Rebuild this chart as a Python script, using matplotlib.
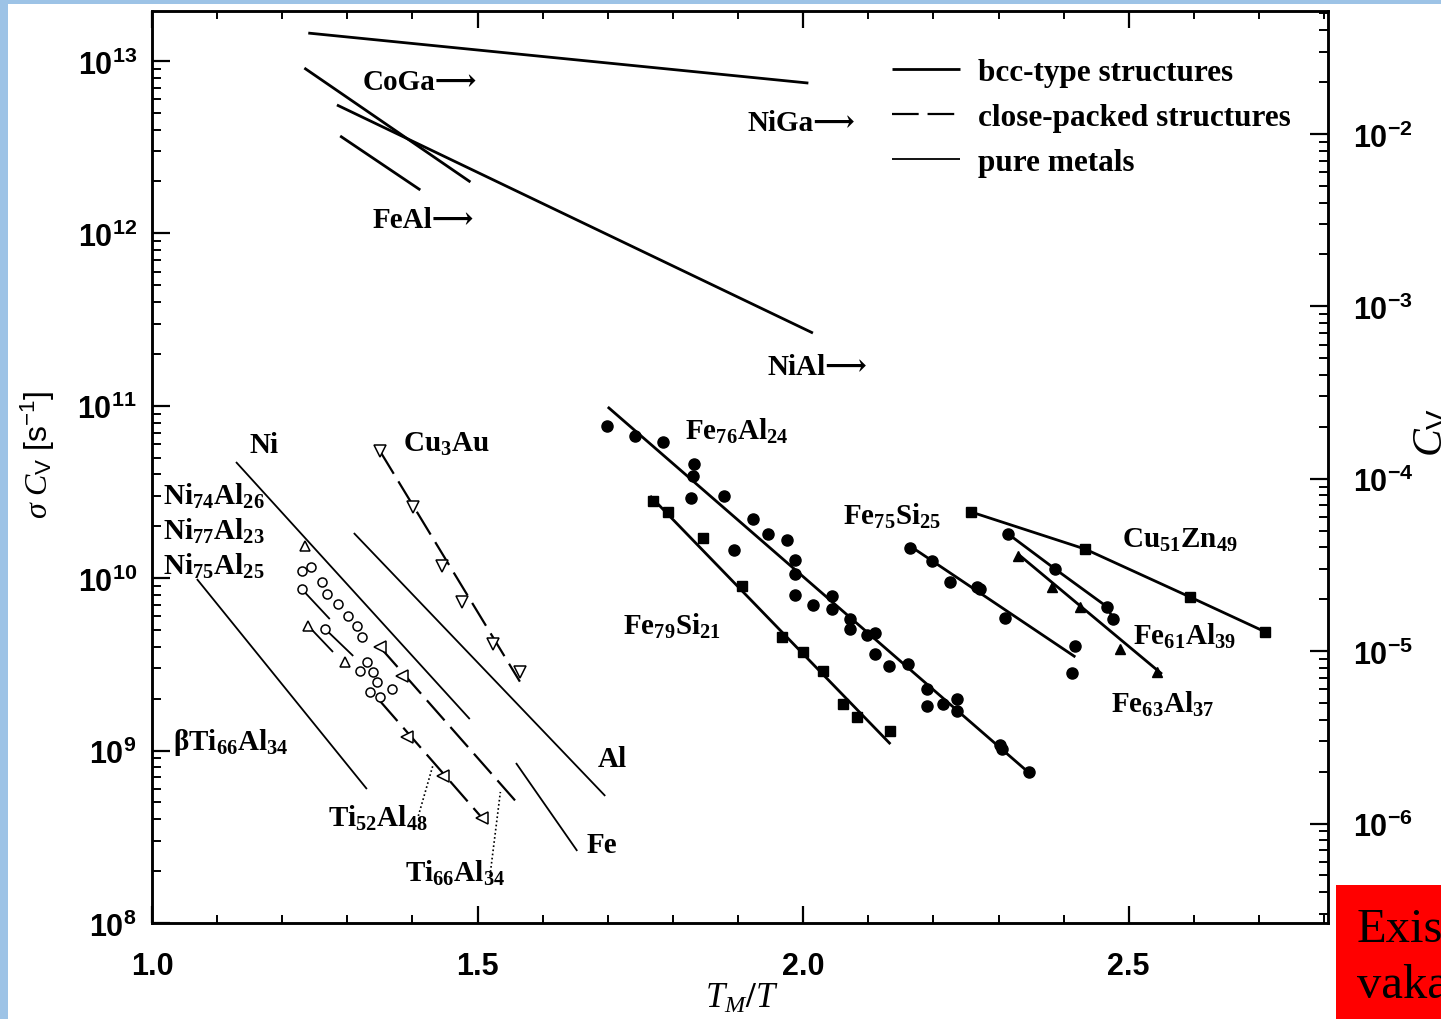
import numpy as np
import matplotlib
matplotlib.use('Agg')
import matplotlib.pyplot as plt
from matplotlib.patches import Rectangle
from matplotlib.ticker import LogLocator, MultipleLocator, NullFormatter

plt.rcParams['mathtext.fontset'] = 'custom'
plt.rcParams['mathtext.rm'] = 'Liberation Serif:bold'
plt.rcParams['mathtext.bf'] = 'Liberation Sans:bold'
plt.rcParams['mathtext.sf'] = 'Liberation Sans'
plt.rcParams['mathtext.it'] = 'Liberation Serif:italic'
plt.rcParams['mathtext.default'] = 'rm'

# ---------------- data (x = T_M/T, values as log10(sigma*C_V / s^-1)) ----------------
x_ticks = [1.0, 1.5, 2.0, 2.5]
x_ticklabels = ['1.0', '1.5', '2.0', '2.5']
y_ticks = [1e8, 1e9, 1e10, 1e11, 1e12, 1e13]
y_ticklabels = [r'$\mathbf{10^{8}}$', r'$\mathbf{10^{9}}$', r'$\mathbf{10^{10}}$',
                r'$\mathbf{10^{11}}$', r'$\mathbf{10^{12}}$', r'$\mathbf{10^{13}}$']
cv_ticks = [1e-6, 1e-5, 1e-4, 1e-3, 1e-2]
cv_ticklabels = [r'$\mathbf{10^{-6}}$', r'$\mathbf{10^{-5}}$', r'$\mathbf{10^{-4}}$',
                 r'$\mathbf{10^{-3}}$', r'$\mathbf{10^{-2}}$']
cv_offset_log10 = 14.577   # log10(sigma) linking left and right axes

# bcc-type structures (thick solid lines)
niga_x = [1.240, 2.008]; niga_log = [13.162, 12.872]
coga_x = [1.234, 1.489]; coga_log = [12.959, 12.298]
nial_x = [1.284, 2.015]; nial_log = [12.745, 11.422]
feal_x = [1.289, 1.412]; feal_log = [12.565, 12.252]

fe76al24_x = [1.699, 1.742, 1.785, 1.833, 1.831, 1.828, 1.879, 1.894, 1.923, 1.946, 1.975,
              1.988, 1.988, 1.988, 2.015, 2.045, 2.045, 2.072, 2.072, 2.098, 2.111, 2.111,
              2.132, 2.161, 2.190, 2.190, 2.214, 2.237, 2.237, 2.303, 2.306, 2.347]
fe76al24_log = [10.883, 10.825, 10.790, 10.662, 10.593, 10.465, 10.477, 10.164, 10.343, 10.256,
                10.222, 10.106, 10.024, 9.903, 9.845, 9.897, 9.821, 9.763, 9.705, 9.671, 9.682,
                9.560, 9.491, 9.502, 9.357, 9.259, 9.270, 9.299, 9.230, 9.032, 9.009, 8.876]
fe76al24_fit_x = [1.700, 2.349]; fe76al24_fit_log = [10.993, 8.864]

fe79si21_x = [1.770, 1.793, 1.846, 1.906, 1.968, 2.000, 2.031, 2.061, 2.083, 2.134]
fe79si21_log = [10.448, 10.384, 10.233, 9.955, 9.659, 9.572, 9.462, 9.270, 9.195, 9.114]
fe79si21_fit_x = [1.765, 2.134]; fe79si21_fit_log = [10.477, 9.038]

fe75si25_x = [2.164, 2.198, 2.226, 2.267, 2.272, 2.310, 2.418, 2.413]
fe75si25_log = [10.175, 10.100, 9.978, 9.949, 9.937, 9.769, 9.607, 9.450]
fe75si25_fit_x = [2.164, 2.418]; fe75si25_fit_log = [10.187, 9.543]

fe61al39_x = [2.315, 2.387, 2.467, 2.476]
fe61al39_log = [10.256, 10.053, 9.833, 9.763]

fe63al37_x = [2.330, 2.382, 2.425, 2.487, 2.544]
fe63al37_log = [10.129, 9.949, 9.833, 9.589, 9.456]
fe63al37_fit_x = [2.330, 2.551]; fe63al37_fit_log = [10.140, 9.444]

cu51zn49_x = [2.258, 2.433, 2.594, 2.710]
cu51zn49_log = [10.384, 10.169, 9.891, 9.688]

# Ni3Al-type alloys (open symbols, short lines)
ni3al_circ_x = [1.230, 1.244, 1.261, 1.269, 1.286, 1.301, 1.315, 1.323]
ni3al_circ_log = [10.042, 10.065, 9.978, 9.908, 9.850, 9.781, 9.723, 9.659]
ni3al_circ2_x = [1.230, 1.266, 1.320, 1.330, 1.339, 1.346, 1.350, 1.369, 1.335]
ni3al_circ2_log = [9.937, 9.705, 9.462, 9.514, 9.456, 9.398, 9.311, 9.357, 9.340]
ni3al_tri_x = [1.235, 1.240, 1.296]
ni3al_tri_log = [10.187, 9.723, 9.514]
ni3al_seg1_x = [1.230, 1.273]; ni3al_seg1_log = [9.937, 9.763]
ni3al_seg2_x = [1.240, 1.278]; ni3al_seg2_log = [9.723, 9.572]
ni3al_seg3_x = [1.266, 1.309]; ni3al_seg3_log = [9.705, 9.549]

# close-packed structures (dashed lines)
cu3au_x = [1.350, 1.401, 1.445, 1.476, 1.524, 1.565]
cu3au_log = [10.738, 10.413, 10.071, 9.862, 9.618, 9.456]
cu3au_fit_x = [1.350, 1.565]; cu3au_fit_log = [10.738, 9.40]
ti66al34_x = [1.350, 1.384]; ti66al34_log = [9.601, 9.433]
ti66al34_fit_x = [1.350, 1.565]; ti66al34_fit_log = [9.601, 8.679]
ti52al48_x = [1.392, 1.447, 1.507]; ti52al48_log = [9.079, 8.853, 8.609]
ti52al48_fit_x = [1.350, 1.507]; ti52al48_fit_log = [9.288, 8.609]

# pure metals (thin solid lines)
ni_x = [1.129, 1.488]; ni_log = [10.674, 9.183]
al_x = [1.310, 1.696]; al_log = [10.262, 8.737]
fe_x = [1.559, 1.653]; fe_log = [8.928, 8.418]
bti_x = [1.069, 1.330]; bti_log = [9.995, 8.777]

# label leaders (dotted)
lead_ti52_x = [1.409, 1.432]; lead_ti52_log = [8.621, 8.922]
lead_ti66_x = [1.519, 1.535]; lead_ti66_log = [8.273, 8.760]

labels = [
    (r'CoGa⟶', 1.324, 12.838), (r'NiGa⟶', 1.914, 12.600), (r'FeAl⟶', 1.339, 12.037),
    (r'NiAl⟶', 1.945, 11.184), (r'Ni', 1.149, 10.732), (r'Cu$_3$Au', 1.386, 10.738),
    (r'Fe$_{76}$Al$_{24}$', 1.819, 10.807), (r'Ni$_{74}$Al$_{26}$', 1.017, 10.430),
    (r'Ni$_{77}$Al$_{23}$', 1.017, 10.227), (r'Ni$_{75}$Al$_{25}$', 1.017, 10.024),
    (r'Fe$_{75}$Si$_{25}$', 2.061, 10.314), (r'Cu$_{51}$Zn$_{49}$', 2.490, 10.181),
    (r'Fe$_{79}$Si$_{21}$', 1.724, 9.676), (r'Fe$_{61}$Al$_{39}$', 2.507, 9.618),
    (r'Fe$_{63}$Al$_{37}$', 2.472, 9.224), (r'βTi$_{66}$Al$_{34}$', 1.032, 9.009),
    (r'Al', 1.685, 8.911), (r'Ti$_{52}$Al$_{48}$', 1.270, 8.563), (r'Fe', 1.668, 8.412),
    (r'Ti$_{66}$Al$_{34}$', 1.389, 8.244),
]
legend_labels = ['bcc-type structures', 'close-packed structures', 'pure metals']

# ---------------- figure ----------------
W, H = 1441, 1020
fig = plt.figure(figsize=(W / 100, H / 100), dpi=100, facecolor='#9dc3e6')
fig.patches.append(Rectangle((8 / W, 0), 1, 1 - 5 / H, transform=fig.transFigure,
                             facecolor='white', edgecolor='none', zorder=-10))
fig.patches.append(Rectangle((1336 / W, 0), 1, (H - 886) / H, transform=fig.transFigure,
                             facecolor='#ff0000', edgecolor='none', zorder=5))
fig.text(1357 / W, (H - 942) / H, 'Exis', fontsize=35, family='Liberation Serif',
         color='black', zorder=6)
fig.text(1357 / W, (H - 998) / H, 'vaka', fontsize=35, family='Liberation Serif',
         color='black', zorder=6)

ax = fig.add_axes([152 / W, 1 - 924 / H, (1328 - 152) / W, (924 - 12) / H])
ax.set_facecolor('white')
ax.set_yscale('log')
ax.set_xlim(1.0, 2.806)
ax.set_ylim(1e8, 10 ** 13.29)

def P(v):
    return 10 ** np.asarray(v)

k = 'black'
bcc = dict(color=k, lw=2.0, solid_capstyle='butt')
pure = dict(color=k, lw=1.3, solid_capstyle='butt')
cp = dict(color=k, lw=1.6, ls=(0, (12, 4)))

for xs, ys in [(niga_x, niga_log), (coga_x, coga_log), (nial_x, nial_log), (feal_x, feal_log),
               (fe76al24_fit_x, fe76al24_fit_log), (fe79si21_fit_x, fe79si21_fit_log),
               (fe75si25_fit_x, fe75si25_fit_log), (fe61al39_x, fe61al39_log),
               (fe63al37_fit_x, fe63al37_fit_log), (cu51zn49_x, cu51zn49_log)]:
    ax.plot(xs, P(ys), **bcc)

for xs, ys in [(ni_x, ni_log), (al_x, al_log), (fe_x, fe_log), (bti_x, bti_log),
               (ni3al_seg1_x, ni3al_seg1_log), (ni3al_seg2_x, ni3al_seg2_log),
               (ni3al_seg3_x, ni3al_seg3_log)]:
    ax.plot(xs, P(ys), **pure)

for xs, ys in [(cu3au_fit_x, cu3au_fit_log), (ti66al34_fit_x, ti66al34_fit_log),
               (ti52al48_fit_x, ti52al48_fit_log)]:
    ax.plot(xs, P(ys), **cp)

for xs, ys in [(lead_ti52_x, lead_ti52_log), (lead_ti66_x, lead_ti66_log)]:
    ax.plot(xs, P(ys), color=k, lw=1.2, ls=(0, (1, 1.5)))

ax.plot(fe76al24_x, P(fe76al24_log), 'o', ms=8, color=k, ls='none')
ax.plot(fe79si21_x, P(fe79si21_log), 's', ms=7, color=k, ls='none')
ax.plot(fe75si25_x, P(fe75si25_log), 'o', ms=8, color=k, ls='none')
ax.plot(fe61al39_x, P(fe61al39_log), 'o', ms=8, color=k, ls='none')
ax.plot(fe63al37_x, P(fe63al37_log), '^', ms=7, color=k, ls='none')
ax.plot(cu51zn49_x, P(cu51zn49_log), 's', ms=7, color=k, ls='none')

open_m = dict(mfc='white', mec=k, mew=1.1, ls='none')
ax.plot(ni3al_circ_x, P(ni3al_circ_log), 'o', ms=6.5, **open_m)
ax.plot(ni3al_circ2_x, P(ni3al_circ2_log), 'o', ms=6.5, **open_m)
ax.plot(ni3al_tri_x, P(ni3al_tri_log), '^', ms=6.5, **open_m)
ax.plot(cu3au_x, P(cu3au_log), 'v', ms=8, **open_m)
ax.plot(ti66al34_x, P(ti66al34_log), '<', ms=8, **open_m)
ax.plot(ti52al48_x, P(ti52al48_log), '<', ms=8, **open_m)

lab_font = dict(family=['Liberation Serif', 'DejaVu Serif'], weight='bold', fontsize=21)
for txt, xv, yv in labels:
    ax.text(xv, 10 ** yv, txt, ha='left', va='baseline', **lab_font)

# legend drawn as line samples + text in axes fraction
leg_font = dict(family=['Liberation Serif', 'DejaVu Serif'], weight='bold', fontsize=22.5)
leg_y = [0.9364, 0.887, 0.8377]
leg_styles = [bcc, cp, pure]
for yv, st, txt in zip(leg_y, leg_styles, legend_labels):
    ax.plot([0.629, 0.687], [yv, yv], transform=ax.transAxes, **st)
    ax.text(0.7024, yv - 0.004, txt, transform=ax.transAxes, ha='left', va='center',
            **leg_font)

# axes / ticks
for s in ax.spines.values():
    s.set_linewidth(1.8)
ax.set_xticks(x_ticks)
ax.set_xticklabels(x_ticklabels, family='Liberation Sans', weight='bold', fontsize=22)
ax.xaxis.set_minor_locator(MultipleLocator(0.1))
ax.set_yticks(y_ticks)
ax.set_yticklabels(y_ticklabels, fontsize=22)
ax.yaxis.set_minor_locator(LogLocator(base=10, subs=np.arange(2, 10)))
ax.yaxis.set_minor_formatter(NullFormatter())
ax.tick_params(axis='x', which='major', direction='in', length=12, width=1.6, top=True,
               pad=20)
ax.tick_params(axis='x', which='minor', direction='in', length=6, width=1.4, top=True)
ax.tick_params(axis='y', which='major', direction='in', length=13, width=1.6, right=False,
               pad=11)
ax.tick_params(axis='y', which='minor', direction='in', length=6.5, width=1.4, right=False)

ax2 = ax.twinx()
ax2.set_yscale('log')
ax2.set_ylim(10 ** (8 - cv_offset_log10), 10 ** (13.29 - cv_offset_log10))
ax2.set_yticks(cv_ticks)
ax2.set_yticklabels(cv_ticklabels, fontsize=22)
ax2.yaxis.set_minor_locator(LogLocator(base=10, subs=np.arange(2, 10)))
ax2.yaxis.set_minor_formatter(NullFormatter())
ax2.tick_params(axis='y', which='major', direction='in', length=13, width=1.6, pad=18)
ax2.tick_params(axis='y', which='minor', direction='in', length=6.5, width=1.4)
for s in ax2.spines.values():
    s.set_linewidth(1.8)

fig.text(38 / W, 1 - 455 / H, r'$\mathit{\sigma}\ \mathit{C}_{\mathsf{V}}\ \mathsf{[s^{-1}]}$',
         rotation=90, ha='center', va='center', fontsize=23)
fig.text(1430 / W, 1 - 432 / H, r'$\mathit{C}_{\mathsf{V}}$', rotation=90, ha='center',
         va='center', fontsize=30)
fig.text(742 / W, 1 - 998 / H, r'$\mathit{T}_{\mathit{M}}/\mathit{T}$', ha='center',
         va='center', fontsize=25)

fig.savefig('out.png', dpi=100, facecolor=fig.get_facecolor())
